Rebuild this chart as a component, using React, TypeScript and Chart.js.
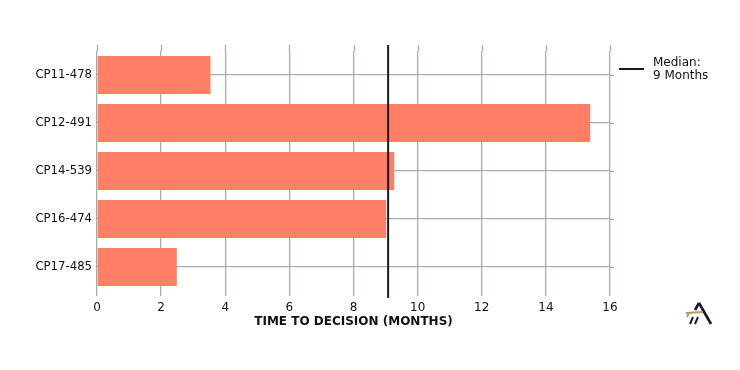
import React, { useEffect, useRef } from "react";
import { Chart, registerables } from "chart.js";

Chart.register(...registerables);

const categories = ["CP11-478", "CP12-491", "CP14-539", "CP16-474", "CP17-485"];
const months = [3.54, 15.38, 9.27, 9.02, 2.49];
const medianValue = 9.08;
const medianLabel = ["Median:", "9 Months"];
const xTicks = [0, 2, 4, 6, 8, 10, 12, 14, 16];
const axisTitle = "TIME TO DECISION (MONTHS)";

const BAR = "#FE7F63";
const GRID = "#A3AAB8";
const NAVY = "#151934";
const GOLD = "#B39A62";
const FONT = "'DejaVu Sans', sans-serif";

const extrasPlugin = {
  id: "extras",
  beforeDatasetsDraw(chart: any) {
    const { ctx, chartArea, scales } = chart;
    const x = scales.x;
    const y = scales.y;
    ctx.save();
    ctx.strokeStyle = GRID;
    ctx.lineWidth = 1.3;
    xTicks.forEach((t) => {
      const px = Math.round(x.getPixelForValue(t)) + 0.5;
      ctx.beginPath();
      ctx.moveTo(px, chartArea.top - 6);
      ctx.lineTo(px, chartArea.top);
      ctx.stroke();
    });
    categories.forEach((_, i) => {
      const py = Math.round(y.getPixelForValue(i)) + 0.5;
      ctx.beginPath();
      ctx.moveTo(chartArea.right, py);
      ctx.lineTo(chartArea.right + 4, py);
      ctx.stroke();
    });
    ctx.restore();
  },
  afterDatasetsDraw(chart: any) {
    const { ctx, chartArea, scales } = chart;
    const x = scales.x;
    const mx = x.getPixelForValue(medianValue);
    ctx.save();
    ctx.strokeStyle = NAVY;
    ctx.lineWidth = 2;
    ctx.beginPath();
    ctx.moveTo(mx, chartArea.top - 6);
    ctx.lineTo(mx, chartArea.bottom + 7);
    ctx.stroke();

    const lx = chartArea.right + 9;
    ctx.lineWidth = 2;
    ctx.beginPath();
    ctx.moveTo(lx, 69);
    ctx.lineTo(lx + 25, 69);
    ctx.stroke();
    ctx.fillStyle = "#111";
    ctx.font = `12px ${FONT}`;
    ctx.textBaseline = "middle";
    ctx.textAlign = "left";
    medianLabel.forEach((t, i) => ctx.fillText(t, lx + 34, 63 + i * 12.5));

    ctx.lineCap = "butt";
    ctx.strokeStyle = NAVY;
    ctx.lineWidth = 2.6;
    ctx.beginPath();
    ctx.moveTo(699, 303);
    ctx.lineTo(711, 324);
    ctx.stroke();
    ctx.beginPath();
    ctx.moveTo(699, 303);
    ctx.lineTo(695, 310);
    ctx.stroke();
    ctx.lineWidth = 2;
    ctx.beginPath();
    ctx.moveTo(690, 324);
    ctx.lineTo(693, 317);
    ctx.moveTo(695, 324);
    ctx.lineTo(698, 317);
    ctx.stroke();
    ctx.strokeStyle = GOLD;
    ctx.lineWidth = 2;
    ctx.beginPath();
    ctx.moveTo(686, 313);
    ctx.lineTo(703, 312);
    ctx.stroke();
    ctx.beginPath();
    ctx.moveTo(689, 313);
    ctx.lineTo(687, 317);
    ctx.stroke();
    ctx.restore();
  },
};

export default function App() {
  const ref = useRef<HTMLCanvasElement>(null);
  useEffect(() => {
    if (!ref.current) return;
    const chart = new Chart(ref.current, {
      type: "bar",
      data: {
        labels: categories,
        datasets: [
          {
            label: "Time to decision",
            data: months,
            backgroundColor: BAR,
            borderWidth: 0,
            barPercentage: 0.79,
            categoryPercentage: 1,
          },
        ],
      },
      options: {
        indexAxis: "y",
        animation: false,
        responsive: false,
        maintainAspectRatio: false,
        layout: { padding: { left: 0, right: 130, top: 51, bottom: 0 } },
        plugins: { legend: { display: false }, tooltip: { enabled: false } },
        scales: {
          x: {
            type: "linear",
            min: 0,
            max: 16,
            afterFit: (s: any) => {
              s.height = 79;
            },
            afterBuildTicks: (s: any) => {
              s.ticks = xTicks.map((v) => ({ value: v }));
            },
            border: { display: false },
            grid: { color: GRID, lineWidth: 1.3, tickLength: 5, drawTicks: true },
            ticks: {
              color: "#111",
              font: { family: FONT, size: 12 },
              padding: 5,
            },
            title: {
              display: true,
              text: axisTitle,
              color: "#111",
              font: { family: FONT, size: 12, weight: "bold" },
              padding: { top: 0, bottom: 41 },
            },
          },
          y: {
            type: "category",
            afterFit: (s: any) => {
              s.width = 97;
            },
            border: { display: false },
            grid: { color: GRID, lineWidth: 1.3, offset: false, drawTicks: false },
            ticks: {
              color: "#111",
              font: { family: FONT, size: 11.7 },
              padding: 5,
            },
          },
        },
      },
      plugins: [extrasPlugin],
    });
    return () => chart.destroy();
  }, []);
  return (
    <div style={{ position: "fixed", left: 0, top: 0, width: 740, height: 370, background: "#fff" }}>
      <canvas ref={ref} width={740} height={370} style={{ width: 740, height: 370 }} />
    </div>
  );
}
